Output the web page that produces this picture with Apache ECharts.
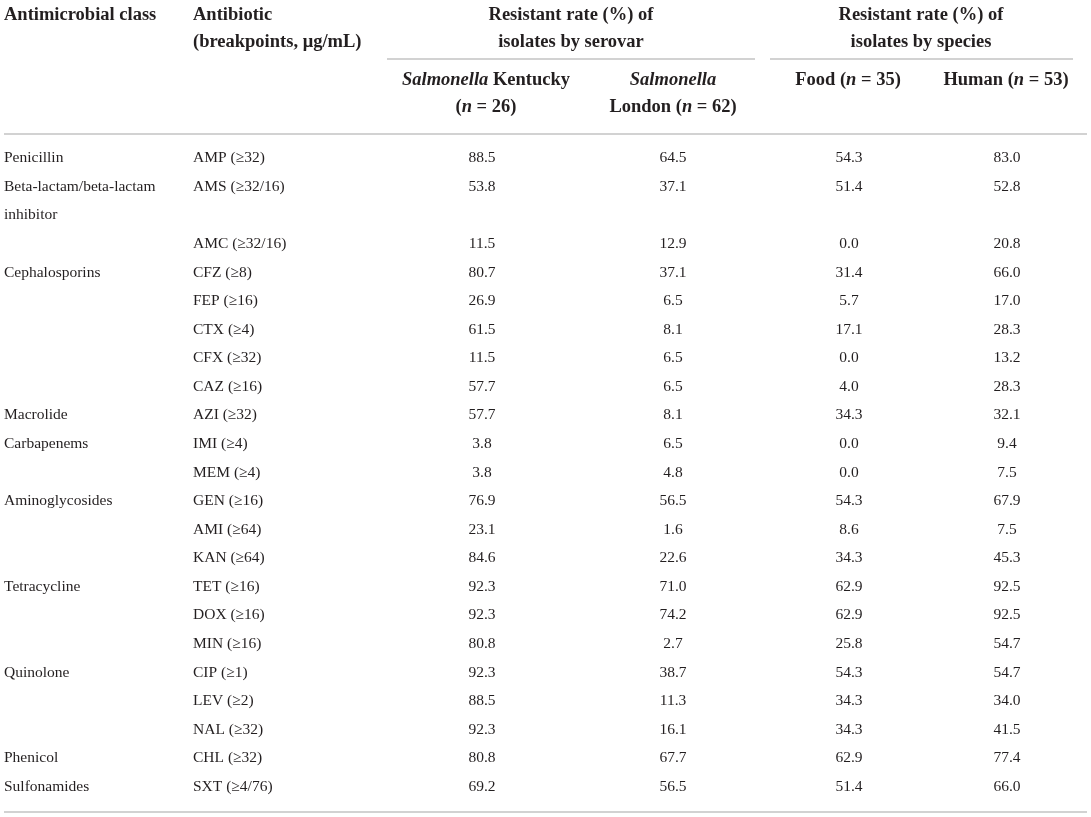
<!DOCTYPE html>
<html>
<head>
<meta charset="utf-8">
<title>Resistant rates of Salmonella isolates</title>
<script src="https://cdn.jsdelivr.net/npm/echarts@6/dist/echarts.min.js"></script>
<style>
  html, body { margin: 0; padding: 0; background: #fff; }
  #chart { width: 1091px; height: 817px; }
</style>
</head>
<body>
<div id="chart"></div>
<script>
// table rows: one slot per printed line, "inhibitor" wraps onto its own slot
const SLOT_COUNT = 23;

const classNames = [
  'Penicillin', 'Beta-lactam/beta-lactam', 'inhibitor', 'Cephalosporins',
  'Macrolide', 'Carbapenems', 'Aminoglycosides', 'Tetracycline',
  'Quinolone', 'Phenicol', 'Sulfonamides'
];
const classSlots = [0, 1, 2, 4, 9, 10, 12, 15, 18, 21, 22];

const antibiotics = [
  'AMP (≥32)', 'AMS (≥32/16)', 'AMC (≥32/16)', 'CFZ (≥8)', 'FEP (≥16)',
  'CTX (≥4)', 'CFX (≥32)', 'CAZ (≥16)', 'AZI (≥32)', 'IMI (≥4)',
  'MEM (≥4)', 'GEN (≥16)', 'AMI (≥64)', 'KAN (≥64)', 'TET (≥16)',
  'DOX (≥16)', 'MIN (≥16)', 'CIP (≥1)', 'LEV (≥2)', 'NAL (≥32)',
  'CHL (≥32)', 'SXT (≥4/76)'
];
const antibioticSlots = [0, 1, 3, 4, 5, 6, 7, 8, 9, 10, 11, 12, 13, 14,
  15, 16, 17, 18, 19, 20, 21, 22];

// resistant rate (%) by serovar
const kentucky = [88.5, 53.8, 11.5, 80.7, 26.9, 61.5, 11.5, 57.7, 57.7, 3.8,
  3.8, 76.9, 23.1, 84.6, 92.3, 92.3, 80.8, 92.3, 88.5, 92.3, 80.8, 69.2];
const london = [64.5, 37.1, 12.9, 37.1, 6.5, 8.1, 6.5, 6.5, 8.1, 6.5,
  4.8, 56.5, 1.6, 22.6, 71.0, 74.2, 2.7, 38.7, 11.3, 16.1, 67.7, 56.5];
// resistant rate (%) by species
const food = [54.3, 51.4, 0.0, 31.4, 5.7, 17.1, 0.0, 4.0, 34.3, 0.0,
  0.0, 54.3, 8.6, 34.3, 62.9, 62.9, 25.8, 54.3, 34.3, 34.3, 62.9, 51.4];
const human = [83.0, 52.8, 20.8, 66.0, 17.0, 28.3, 13.2, 28.3, 32.1, 9.4,
  7.5, 67.9, 7.5, 45.3, 92.5, 92.5, 54.7, 54.7, 34.0, 41.5, 77.4, 66.0];

// column anchors on the hidden x axis (pixels across the page)
const COL = {cls: 4, abx: 193, kentucky: 482, london: 673, food: 849, human: 1007};

const FONT = '"Liberation Serif", "DejaVu Serif", serif';
const TEXT_COLOR = '#231f20';
const RULE_COLOR = '#d2d2d2';
const BODY_SIZE = 15.5;
const HEAD_SIZE = 18.5;

const chart = echarts.init(document.getElementById('chart'));

// build one custom text column
function textColumn(name, x, slots, texts, align) {
  return {
    type: 'custom',
    name: name,
    silent: true,
    data: slots.map((s) => [x, s]),
    renderItem: (params, api) => {
      const p = api.coord([api.value(0), api.value(1)]);
      return {
        type: 'text',
        x: p[0],
        y: p[1],
        style: {
          text: texts[params.dataIndex],
          align: align,
          verticalAlign: 'middle',
          fill: TEXT_COLOR,
          fontFamily: FONT,
          fontSize: BODY_SIZE
        }
      };
    }
  };
}

const fmt = (arr) => arr.map((v) => v.toFixed(1));

function headerText(x, y, text, align, rich) {
  return {
    type: 'text',
    x: x,
    y: y,
    silent: true,
    style: {
      text: text,
      align: align,
      verticalAlign: 'middle',
      fill: TEXT_COLOR,
      fontFamily: FONT,
      fontSize: HEAD_SIZE,
      fontWeight: 'bold',
      rich: rich
    }
  };
}

const richHead = {
  b: {fontFamily: FONT, fontSize: HEAD_SIZE, fontWeight: 'bold', fill: TEXT_COLOR},
  i: {fontFamily: FONT, fontSize: HEAD_SIZE, fontWeight: 'bold', fontStyle: 'italic', fill: TEXT_COLOR}
};

function rule(x1, x2, y) {
  return {
    type: 'line',
    silent: true,
    shape: {x1: x1, y1: y, x2: x2, y2: y},
    style: {stroke: RULE_COLOR, lineWidth: 2}
  };
}

const option = {
  animation: false,
  backgroundColor: '#fff',
  grid: {left: 0, right: 0, top: 144, bottom: 16},
  xAxis: {type: 'value', min: 0, max: 1091, show: false},
  yAxis: {
    type: 'category',
    inverse: true,
    show: false,
    data: Array.from({length: SLOT_COUNT}, (_, i) => i)
  },
  graphic: [
    headerText(4, 15, 'Antimicrobial class', 'left'),
    headerText(193, 15, 'Antibiotic', 'left'),
    headerText(193, 42, '(breakpoints, μg/mL)', 'left'),
    headerText(571, 15, 'Resistant rate (%) of', 'center'),
    headerText(571, 42, 'isolates by serovar', 'center'),
    headerText(921, 15, 'Resistant rate (%) of', 'center'),
    headerText(921, 42, 'isolates by species', 'center'),
    headerText(486, 80, '{i|Salmonella}{b| Kentucky}', 'center', richHead),
    headerText(486, 107, '{b|(}{i|n}{b| = 26)}', 'center', richHead),
    headerText(673, 80, '{i|Salmonella}', 'center', richHead),
    headerText(673, 107, '{b|London (}{i|n}{b| = 62)}', 'center', richHead),
    headerText(848, 80, '{b|Food (}{i|n}{b| = 35)}', 'center', richHead),
    headerText(1006, 80, '{b|Human (}{i|n}{b| = 53)}', 'center', richHead),
    rule(387, 755, 59),
    rule(770, 1073, 59),
    rule(4, 1087, 134),
    rule(4, 1087, 812)
  ],
  series: [
    textColumn('class', COL.cls, classSlots, classNames, 'left'),
    textColumn('antibiotic', COL.abx, antibioticSlots, antibiotics, 'left'),
    textColumn('kentucky', COL.kentucky, antibioticSlots, fmt(kentucky), 'center'),
    textColumn('london', COL.london, antibioticSlots, fmt(london), 'center'),
    textColumn('food', COL.food, antibioticSlots, fmt(food), 'center'),
    textColumn('human', COL.human, antibioticSlots, fmt(human), 'center')
  ]
};

chart.setOption(option);
</script>
</body>
</html>
